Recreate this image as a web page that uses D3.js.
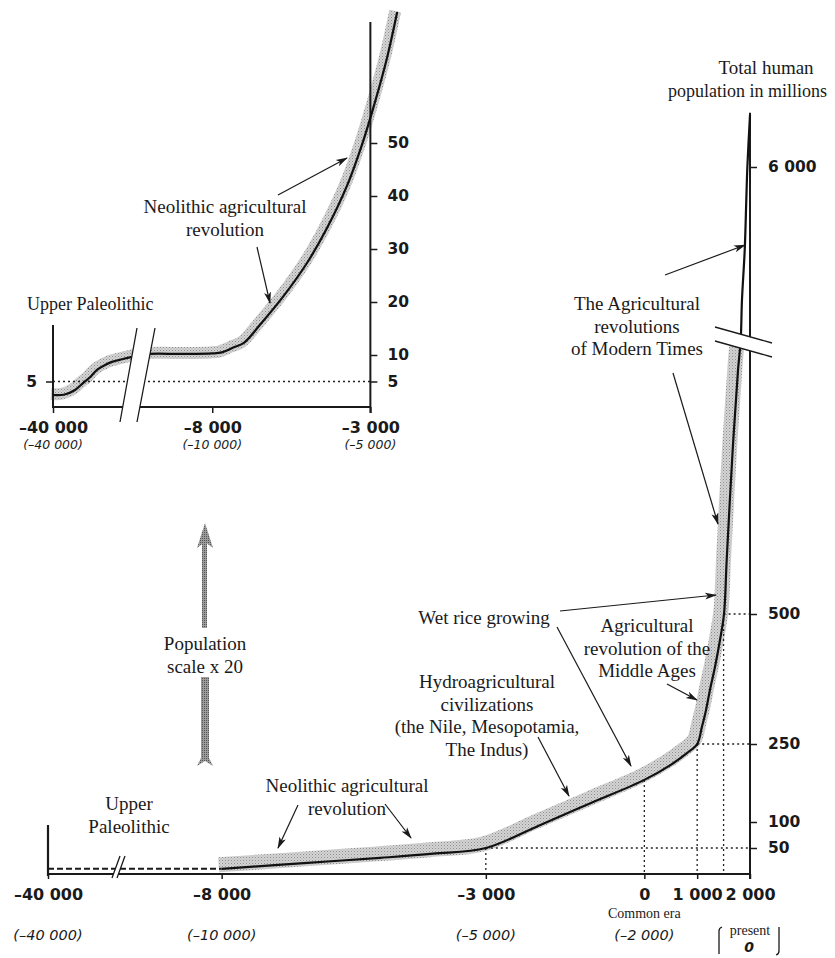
<!DOCTYPE html>
<html>
<head>
<meta charset="utf-8">
<script src="https://cdn.jsdelivr.net/npm/d3@7"></script>
<style>
  body { margin: 0; background: #fff; }
  svg { display: block; }
  .serif { font-family: "Liberation Serif", "Times New Roman", serif; fill: #1a1a1a; }
  .num { font-family: "DejaVu Sans", sans-serif; font-weight: bold; fill: #1a1a1a; }
  .ital { font-family: "DejaVu Sans", sans-serif; font-style: italic; fill: #1a1a1a; }
</style>
</head>
<body>
<svg id="chart" width="835" height="958"></svg>
<script>
// ---- main chart: total population (millions) by year ----
const mainDashYears = [-40000, -8000];
const mainDashPop = [10, 10];
const mainYears = [-8000, -7000, -6000, -5000, -4000, -3000, -2000, -1000, 0, 500, 800, 1000,
  1090, 1167, 1242, 1337, 1432, 1508, 1559, 1672, 1773, 1824, 1848, 1900, 1930, 1950, 2000];
const mainPop = [10, 17, 24, 31, 39, 50, 93, 137, 181, 210, 232, 250,
  283, 315, 354, 398, 450, 500, 604, 815, 969, 1374, 2444, 3780, 5118, 6000, 7390];
const bandEndYear = 1824;

const mainYTicks = [50, 100, 250, 500, 6000];
const mainYLabels = ["50", "100", "250", "500", "6 000"];
const mainXTicks = [-40000, -8000, -3000, 0, 1000, 2000];
const mainXLabels = ["–40 000", "–8 000", "–3 000", "0", "1 000", "2 000"];
const mainXAltTicks = [-40000, -8000, -3000, 0];
const mainXAltLabels = ["(–40 000)", "(–10 000)", "(–5 000)", "(–2 000)"];

// reference (dotted) points on the main curve
const refYears = [-3000, 0, 1000, 1500];
const refPop = [50, 181, 250, 500];

// ---- inset: population x 20 ----
const insetYears = [-40000, -36000, -31800, -28850, -26250, -23640, -20670, -18060, -14350, -11000,
  -10000, -9000, -8000, -7700, -7340, -7000, -6490, -5760, -5000, -4367, -3734, -3259, -2880, -2468, -2152];
const insetPop = [2.45, 2.5, 3.4, 4.7, 5.8, 7.2, 8.1, 8.7, 9.2, 9.6,
  10.2, 10.2, 10.3, 10.5, 11.4, 12.3, 15.7, 21, 27.4, 34, 42, 49.8, 57.2, 66.2, 74.7];
const insetYTicks = [5, 10, 20, 30, 40, 50];
const insetXTicks = [-40000, -8000, -3000];
const insetXLabels = ["–40 000", "–8 000", "–3 000"];
const insetXAltLabels = ["(–40 000)", "(–10 000)", "(–5 000)"];
const insetRefPop = 5;

const svg = d3.select("#chart");
const defs = svg.append("defs");

let stip = defs.append("pattern").attr("id", "stip").attr("width", 3).attr("height", 3)
  .attr("patternUnits", "userSpaceOnUse");
stip.append("rect").attr("width", 3).attr("height", 3).attr("fill", "#d4d4d4");
stip.append("rect").attr("width", 1).attr("height", 1).attr("fill", "#8e8e8e");
stip.append("rect").attr("x", 1.5).attr("y", 1.5).attr("width", 1).attr("height", 1).attr("fill", "#a6a6a6");

let stip2 = defs.append("pattern").attr("id", "stip2").attr("width", 2).attr("height", 2)
  .attr("patternUnits", "userSpaceOnUse");
stip2.append("rect").attr("width", 2).attr("height", 2).attr("fill", "#9c9c9c");
stip2.append("rect").attr("width", 1).attr("height", 1).attr("fill", "#555");

defs.append("marker").attr("id", "ah").attr("viewBox", "0 -5 12 10")
  .attr("refX", 11).attr("refY", 0).attr("markerWidth", 12).attr("markerHeight", 10)
  .attr("markerUnits", "userSpaceOnUse").attr("orient", "auto")
  .append("path").attr("d", "M0,-3.5L12,0L0,3.5L3,0Z").attr("fill", "#1a1a1a");

// ================= main chart =================
const xMain = d3.scaleLinear().domain([-40000, -10000, 2000]).range([48, 116, 750]);
const yMain = d3.scaleLinear().domain([0, 1000, 6000]).range([874, 354, 167]);

const mainData = mainYears.map((d, i) => ({year: d, pop: mainPop[i]}));
const dashData = mainDashYears.map((d, i) => ({year: d, pop: mainDashPop[i]}));
const mainLine = d3.line().x(d => xMain(d.year)).y(d => yMain(d.pop)).curve(d3.curveCatmullRom.alpha(0.5));

// grey band
svg.append("path")
  .datum(mainData.filter(d => d.year <= bandEndYear))
  .attr("d", mainLine)
  .attr("transform", "translate(-3,-4)")
  .attr("fill", "none")
  .attr("stroke", "url(#stip)")
  .attr("stroke-width", 15);

// dotted reference lines
const dot = {stroke: "#222", "stroke-width": 1.3, "stroke-dasharray": "2,3"};
refYears.forEach((yr, i) => {
  let v = svg.append("line")
    .attr("x1", xMain(yr)).attr("x2", xMain(yr))
    .attr("y1", yMain(refPop[i])).attr("y2", yMain(0));
  Object.entries(dot).forEach(([k, val]) => v.attr(k, val));
  if (mainYTicks.includes(refPop[i])) {
    let h = svg.append("line")
      .attr("x1", xMain(yr)).attr("x2", xMain(2000))
      .attr("y1", yMain(refPop[i])).attr("y2", yMain(refPop[i]));
    Object.entries(dot).forEach(([k, val]) => h.attr(k, val));
  }
});

// axes
svg.append("line").attr("x1", xMain(-40000)).attr("x2", xMain(2000))
  .attr("y1", yMain(0)).attr("y2", yMain(0)).attr("stroke", "#1a1a1a").attr("stroke-width", 2);
svg.append("line").attr("x1", xMain(2000)).attr("x2", xMain(2000))
  .attr("y1", yMain(7450)).attr("y2", yMain(0) + 5).attr("stroke", "#1a1a1a").attr("stroke-width", 2);
svg.append("line").attr("x1", xMain(-40000)).attr("x2", xMain(-40000))
  .attr("y1", yMain(0) - 49).attr("y2", yMain(0) + 2).attr("stroke", "#1a1a1a").attr("stroke-width", 2.2);

// dashed early part
svg.append("path").datum(dashData).attr("d", mainLine)
  .attr("fill", "none").attr("stroke", "#1a1a1a").attr("stroke-width", 2)
  .attr("stroke-dasharray", "6,3");

// main curve
svg.append("path").datum(mainData).attr("d", mainLine)
  .attr("fill", "none").attr("stroke", "#111").attr("stroke-width", 2.2);

// y axis ticks
const yAx = svg.append("g").attr("transform", `translate(${xMain(2000)},0)`)
  .call(d3.axisRight(yMain).tickValues(mainYTicks).tickSize(7).tickPadding(11)
    .tickFormat((d, i) => mainYLabels[i]));
yAx.select(".domain").remove();
yAx.selectAll("line").attr("stroke", "#1a1a1a").attr("stroke-width", 1.5);
yAx.selectAll("text").attr("class", "num").style("font-size", "15.5px");

// x axis ticks
const xAx = svg.append("g").attr("transform", `translate(0,${yMain(0)})`)
  .call(d3.axisBottom(xMain).tickValues(mainXTicks).tickSize(5).tickPadding(10)
    .tickFormat((d, i) => mainXLabels[i]));
xAx.select(".domain").remove();
xAx.selectAll("line").attr("stroke", "#1a1a1a").attr("stroke-width", 1.5);
xAx.selectAll("text").attr("class", "num").style("font-size", "16px");

svg.selectAll(".altMain").data(mainXAltTicks).enter().append("text")
  .attr("class", "ital").attr("x", d => xMain(d)).attr("y", 940)
  .attr("text-anchor", "middle").style("font-size", "14.5px")
  .text((d, i) => mainXAltLabels[i]);

svg.append("text").attr("class", "serif").attr("x", xMain(0)).attr("y", 918)
  .attr("text-anchor", "middle").style("font-size", "14px").text("Common era");
svg.append("text").attr("class", "serif").attr("x", xMain(2000)).attr("y", 935)
  .attr("text-anchor", "middle").style("font-size", "14px").text("present");
svg.append("text").attr("class", "ital").attr("x", xMain(2000) - 1).attr("y", 952)
  .attr("text-anchor", "middle").style("font-size", "14px").style("font-weight", "bold").text("0");
svg.append("path").attr("d", "M722,927 Q719,928 719,931 L719,954 M779,927 L779,951 Q779,954 776,955")
  .attr("fill", "none").attr("stroke", "#1a1a1a").attr("stroke-width", 1.3);

// axis breaks (main)
svg.append("polygon").attr("points", "715,327 772,343 772,357 715,341").attr("fill", "#fff");
svg.append("path").attr("d", "M715,327 L772,343 M715,341 L772,357")
  .attr("stroke", "#1a1a1a").attr("stroke-width", 1.3);
const bx = xMain(-10000);
svg.append("polygon").attr("points", `${bx - 4},878 ${bx + 4},856 ${bx + 9},856 ${bx + 1},878`).attr("fill", "#fff");
svg.append("path").attr("d", `M${bx - 4},878 L${bx + 4},856 M${bx + 1},878 L${bx + 9},856`)
  .attr("stroke", "#1a1a1a").attr("stroke-width", 1.3);

// ================= inset =================
const xIn = d3.scaleLinear().domain([-40000, -11000, -10000, -2000]).range([53, 131, 149, 402]);
const yIn = d3.scaleLinear().domain([0, 10]).range([408, 355]);
const insetData = insetYears.map((d, i) => ({year: d, pop: insetPop[i]}));
const inLine = d3.line().x(d => xIn(d.year)).y(d => yIn(d.pop)).curve(d3.curveCatmullRom.alpha(0.5));

svg.append("path").datum(insetData).attr("d", inLine)
  .attr("transform", "translate(-2,-1)")
  .attr("fill", "none").attr("stroke", "url(#stip)").attr("stroke-width", 12);

svg.append("line").attr("x1", xIn(-40000)).attr("x2", xIn(-3000))
  .attr("y1", yIn(insetRefPop)).attr("y2", yIn(insetRefPop))
  .attr("stroke", "#222").attr("stroke-width", 1.3).attr("stroke-dasharray", "2,3");

svg.append("line").attr("x1", xIn(-40000)).attr("x2", xIn(-3000))
  .attr("y1", 407).attr("y2", 407).attr("stroke", "#1a1a1a").attr("stroke-width", 2);
svg.append("line").attr("x1", xIn(-3000)).attr("x2", xIn(-3000))
  .attr("y1", 22).attr("y2", 413).attr("stroke", "#1a1a1a").attr("stroke-width", 2);
svg.append("line").attr("x1", xIn(-40000)).attr("x2", xIn(-40000))
  .attr("y1", 325).attr("y2", 408).attr("stroke", "#1a1a1a").attr("stroke-width", 2);

svg.append("path").datum(insetData).attr("d", inLine)
  .attr("fill", "none").attr("stroke", "#111").attr("stroke-width", 2.2);

const yInAx = svg.append("g").attr("transform", `translate(${xIn(-3000)},0)`)
  .call(d3.axisRight(yIn).tickValues(insetYTicks).tickSize(7).tickPadding(10));
yInAx.select(".domain").remove();
yInAx.selectAll("line").attr("stroke", "#1a1a1a").attr("stroke-width", 1.5);
yInAx.selectAll("text").attr("class", "num").style("font-size", "15.5px");

const yInLeft = svg.append("g").attr("transform", `translate(${xIn(-40000)},0)`)
  .call(d3.axisLeft(yIn).tickValues([insetRefPop]).tickSize(7).tickPadding(9));
yInLeft.select(".domain").remove();
yInLeft.selectAll("line").attr("stroke", "#1a1a1a").attr("stroke-width", 1.5);
yInLeft.selectAll("text").attr("class", "num").style("font-size", "15.5px");

const xInAx = svg.append("g").attr("transform", "translate(0,407)")
  .call(d3.axisBottom(xIn).tickValues(insetXTicks).tickSize(6).tickPadding(9)
    .tickFormat((d, i) => insetXLabels[i]));
xInAx.select(".domain").remove();
xInAx.selectAll("line").attr("stroke", "#1a1a1a").attr("stroke-width", 1.5);
xInAx.selectAll("text").attr("class", "num").style("font-size", "16px");

svg.selectAll(".altIn").data(insetXTicks).enter().append("text")
  .attr("class", "ital").attr("x", d => xIn(d)).attr("y", 449)
  .attr("text-anchor", "middle").style("font-size", "12.5px")
  .text((d, i) => insetXAltLabels[i]);

// inset break
svg.append("polygon").attr("points", "137,328 155,328 137,422 120,422").attr("fill", "#fff");
svg.append("path").attr("d", "M137,328 L120,422 M155,328 L137,422")
  .attr("stroke", "#1a1a1a").attr("stroke-width", 1.3);

// ================= population scale arrow =================
svg.append("rect").attr("x", 202).attr("y", 540).attr("width", 5).attr("height", 88).attr("fill", "url(#stip2)");
svg.append("path").attr("d", "M205,523 L213,548 L205,542 L197,548 Z").attr("fill", "url(#stip2)");
svg.append("path").attr("d", "M201,677 L209,677 L209,758 L213,766 L205,761 L197,766 L201,758 Z").attr("fill", "url(#stip2)");

// ================= annotations =================
const notes = [
  {x: 766, y: 74, a: "middle", lines: ["Total human"]},
  {x: 668, y: 97, a: "start", lines: ["population in millions"], fs: 18},
  {x: 637, y: 310, a: "middle", lines: ["The Agricultural", "revolutions", "of Modern Times"]},
  {x: 484, y: 624, a: "middle", lines: ["Wet rice growing"]},
  {x: 647, y: 632, a: "middle", lines: ["Agricultural", "revolution of the", "Middle Ages"]},
  {x: 487, y: 688, a: "middle", lines: ["Hydroagricultural", "civilizations", "(the Nile, Mesopotamia,", "The Indus)"]},
  {x: 347, y: 792, a: "middle", lines: ["Neolithic agricultural", "revolution"]},
  {x: 129, y: 810, a: "middle", lines: ["Upper", "Paleolithic"]},
  {x: 205, y: 650, a: "middle", lines: ["Population", "scale x 20"]},
  {x: 27, y: 310, a: "start", lines: ["Upper Paleolithic"], fs: 18},
  {x: 225, y: 213, a: "middle", lines: ["Neolithic agricultural", "revolution"]}
];
notes.forEach(n => {
  let t = svg.append("text").attr("class", "serif").attr("text-anchor", n.a)
    .style("font-size", (n.fs || 19) + "px");
  n.lines.forEach((l, i) => {
    t.append("tspan").attr("x", n.x).attr("y", n.y + i * 22.5).text(l);
  });
});

const arrows = [
  [665, 275, 745, 245], [673, 373, 718, 524], [560, 611, 716, 595], [557, 627, 631, 766],
  [667, 684, 697, 700], [538, 737, 569, 796], [298, 805, 278, 848], [385, 804, 411, 838],
  [278, 195, 347, 158], [257, 247, 270, 303]
];
svg.selectAll(".arrow").data(arrows).enter().append("line")
  .attr("x1", d => d[0]).attr("y1", d => d[1]).attr("x2", d => d[2]).attr("y2", d => d[3])
  .attr("stroke", "#1a1a1a").attr("stroke-width", 1.2).attr("marker-end", "url(#ah)");
</script>
</body>
</html>
